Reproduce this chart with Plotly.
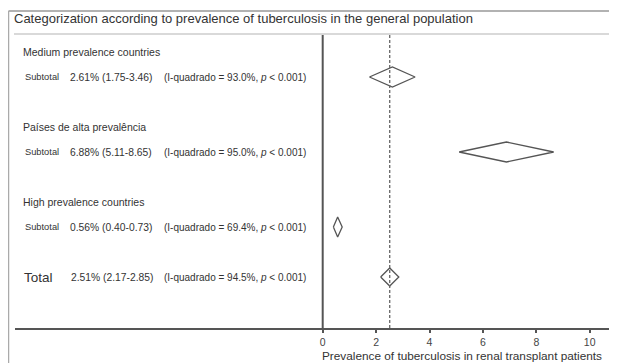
import plotly.graph_objects as go

# ---------------- data ----------------
group_names = ["Medium prevalence countries", "Países de alta prevalência", "High prevalence countries"]
group_est = [2.61, 6.88, 0.56]
group_lo = [1.75, 5.11, 0.40]
group_hi = [3.46, 8.65, 0.73]
group_i2 = [93.0, 95.0, 69.4]
group_p = ["< 0.001", "< 0.001", "< 0.001"]

total_est = 2.51
total_lo = 2.17
total_hi = 2.85
total_i2 = 94.5
total_p = "< 0.001"

tick_vals = [0, 2, 4, 6, 8, 10]
title_text = "Categorization according to prevalence of tuberculosis in the general population"
xaxis_title = "Prevalence of tuberculosis in renal transplant patients"

# ---------------- layout constants (page pixels; page has an 8px body margin) ----------------
OFF = 8
W, H = 617 - OFF, 363 - OFF
PL, PR, PT, PB = 15, 610, 35, 328          # plot area in page pixels
ML, MR, MT, MB = PL - OFF, W - (PR - OFF), PT - OFF, H - (PB - OFF)
PW = PR - PL
PH = PB - PT
X0_PX, X10_PX = 322.7, 589.7
ppu = (X10_PX - X0_PX) / 10.0
x_min = (PL - X0_PX) / ppu
x_max = (PR - X0_PX) / ppu

header_rows = [1, 4, 7]
sub_rows = [2, 5, 8]
total_row = 10
y_top, y_bot = 0.32, 12.04

def px2paper_x(px):
    return (px - PL) / PW

def px2paper_y(py):
    return (PB - py) / PH

TXT = "#333333"
LINE = "#555555"
FONT = "Liberation Sans, Arial, Helvetica, sans-serif"

fig = go.Figure()

def diamond(lo, est, hi, y, hh):
    fig.add_trace(go.Scatter(
        x=[lo, est, hi, est, lo],
        y=[y, y - hh, y, y + hh, y],
        mode="lines", fill="toself", fillcolor="white",
        line=dict(color=LINE, width=1.3),
        hoverinfo="skip", showlegend=False))

for r, lo, e, hi in zip(sub_rows, group_lo, group_est, group_hi):
    diamond(lo, e, hi, r, 0.4)
diamond(total_lo, total_est, total_hi, total_row, 0.36)

def ann(text, x_px, y, size, yref="y", xanchor="left"):
    return dict(text=text, xref="paper", yref=yref, x=px2paper_x(x_px), y=y,
                xanchor=xanchor, yanchor="middle", showarrow=False,
                font=dict(size=size, color=TXT, family=FONT))

annotations = [ann(title_text, 12, px2paper_y(18.5), 13, yref="paper")]

for name, r_h, r_s, e, lo, hi, i2, p in zip(group_names, header_rows, sub_rows,
                                             group_est, group_lo, group_hi, group_i2, group_p):
    annotations.append(ann(name, 20.5, r_h, 10.5))
    annotations.append(ann("Subtotal", 22.5, r_s, 9.3))
    annotations.append(ann(f"{e:.2f}% ({lo:.2f}-{hi:.2f})", 67.5, r_s, 10.3))
    annotations.append(ann(f"(I-quadrado = {i2:.1f}%, <i>p</i> {p.replace('<', '&lt;')})", 161.5, r_s, 10))

annotations.append(ann("Total", 22, total_row, 13.5))
annotations.append(ann(f"{total_est:.2f}% ({total_lo:.2f}-{total_hi:.2f})", 68.5, total_row, 10.3))
annotations.append(ann(f"(I-quadrado = {total_i2:.1f}%, <i>p</i> {total_p.replace('<', '&lt;')})",
                       161.5, total_row, 10))
# x-axis title
annotations.append(ann(xaxis_title, 462, px2paper_y(356), 11.8, yref="paper", xanchor="center"))

shapes = [
    # outer frame: top and left
    dict(type="line", xref="paper", yref="paper", x0=px2paper_x(8.5), x1=px2paper_x(620),
         y0=px2paper_y(11), y1=px2paper_y(11), line=dict(color="#999999", width=1.5)),
    dict(type="line", xref="paper", yref="paper", x0=px2paper_x(8.5), x1=px2paper_x(8.5),
         y0=px2paper_y(11), y1=px2paper_y(366), line=dict(color="#aaaaaa", width=1.5)),
    # title underline
    dict(type="line", xref="paper", yref="paper", x0=px2paper_x(14), x1=px2paper_x(609),
         y0=px2paper_y(34), y1=px2paper_y(34), line=dict(color="#d9d9d9", width=2)),
    # zero line
    dict(type="line", xref="x", yref="paper", x0=0, x1=0, y0=0, y1=1,
         line=dict(color=LINE, width=2)),
    # overall estimate dashed line
    dict(type="line", xref="x", yref="paper", x0=total_est, x1=total_est, y0=0, y1=1,
         line=dict(color="#666666", width=1.3, dash="3px,2px")),
]

fig.update_layout(
    width=W, height=H,
    margin=dict(l=ML, r=MR, t=MT, b=MB),
    plot_bgcolor="white", paper_bgcolor="white",
    showlegend=False,
    annotations=annotations,
    shapes=shapes,
    xaxis=dict(range=[x_min, x_max], tickvals=tick_vals, ticktext=[str(v) for v in tick_vals],
               showgrid=False, zeroline=False, showline=True, linecolor=LINE, linewidth=2,
               ticks="outside", ticklen=3, tickcolor=LINE, tickwidth=1.5,
               tickfont=dict(size=10.5, color="#444444", family=FONT),
               fixedrange=True),
    yaxis=dict(range=[y_bot, y_top], visible=False, showgrid=False, zeroline=False, fixedrange=True),
)

fig.write_html("out.html")
